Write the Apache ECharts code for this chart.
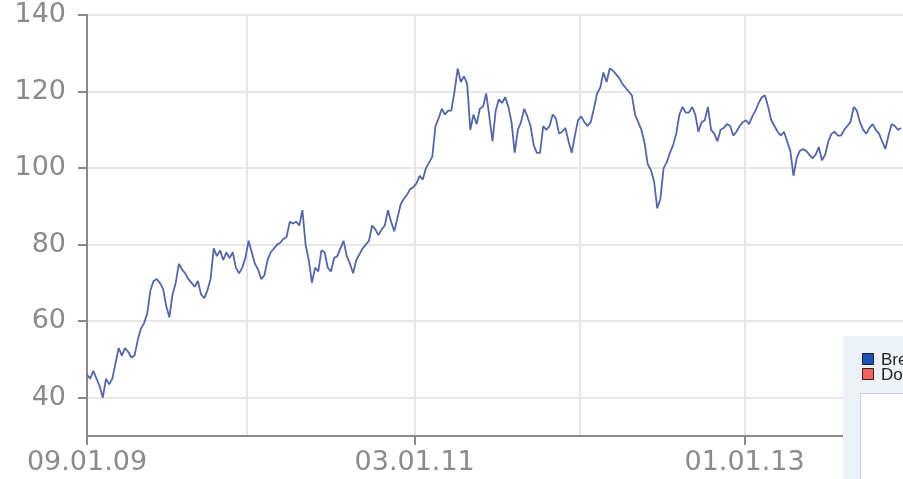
<!DOCTYPE html>
<html><head><meta charset="utf-8">
<script src="https://cdn.jsdelivr.net/npm/echarts@6/dist/echarts.min.js"></script>
<style>html,body{margin:0;padding:0;background:#fff}#c{width:903px;height:479px}</style>
</head><body><div id="c"></div>
<script>
// weekly closes, first point on startDate, one point every stepDays
const startDate = [2009, 0, 9];
const endDate = [2013, 11, 17];
const stepDays = 7;
const prices = [
  46, 45, 47, 45, 43, 40, 45, 43.5, 45, 49,
  53, 51, 53, 52, 50.5, 51, 55, 58, 59.5, 62,
  68, 70.5, 71, 70, 68.5, 64, 61, 67, 70, 75,
  73.5, 72.5, 71, 70, 69, 70.5, 67, 66, 68, 71,
  79, 77, 78.5, 76, 78, 76.5, 78, 74, 72.5, 74,
  76.5, 81, 78, 75, 73.5, 71, 72, 76, 78, 79,
  80, 80.5, 81.5, 82,
  86, 85.5, 86, 85, 89, 80, 76, 70, 74, 73,
  78.5, 78, 74, 73, 76.5, 77, 79, 81, 77, 75,
  72.5, 76, 77.5, 79, 80, 81, 85, 84, 82.5, 84,
  85, 89, 86, 83.5, 87, 90.5, 92, 93, 94.5, 95,
  96, 98, 97, 100, 101.5, 103, 111, 113, 115.5, 114,
  115, 115, 120, 126, 122.5, 124, 122, 110, 114, 111.5,
  115.5,
  116, 119.5, 113.5, 107, 115, 118, 117, 118.5, 116, 112,
  104, 110, 112, 115.5, 113.5, 111, 106, 104, 104, 111,
  110, 111, 114, 113, 109, 109.5, 110.5, 107, 104, 108.5,
  112.5, 113.5, 112, 111, 112, 115.5, 119.5, 121, 125, 122.5,
  126, 125.5, 124.5, 123.5, 122, 121, 120, 119, 114, 112,
  110, 106.5, 101, 99.5, 96.5, 89.5, 92, 100, 101.5, 104,
  106, 109, 114, 116, 114.5, 114.5,
  116, 114, 109.5, 112, 112.5, 116, 110, 109, 107, 110,
  110.5, 111.5, 111, 108.5, 109.5, 111, 112, 112.5, 111.5, 113.5,
  115, 117, 118.5, 119, 116, 112.5, 111, 109.5, 108.5, 109.5,
  107, 104.5, 98, 102.5, 104.5, 105, 104.5, 103.5, 102.5, 103.5,
  105.5, 102, 103.5, 107, 109, 109.5, 108.5, 108.5, 110, 111,
  112, 116, 115, 112, 110, 109, 110.5, 111.5, 110, 109,
  107, 105, 108.5, 111.5, 111, 110, 110.5
];
const xLabelDates = [[2009, 0, 9], [2011, 0, 3], [2013, 0, 1]];
const xGridDates = [[2009, 0, 9], [2009, 11, 29], [2011, 0, 3], [2012, 0, 2], [2013, 0, 1]];
const yTicks = [40, 60, 80, 100, 120, 140];
const legendNames = ['Brent', 'Dow Jones'];
const legendColors = ['#1f52b8', '#f26363'];

const ts = d => Date.UTC(d[0], d[1], d[2]);
const DAY = 86400000;
const t0 = ts(startDate);
const seriesData = prices.map((v, i) => [t0 + i * stepDays * DAY, v]);
const pad = n => (n < 10 ? '0' : '') + n;
const fmt = v => { const d = new Date(v); return pad(d.getUTCDate()) + '.' + pad(d.getUTCMonth() + 1) + '.' + pad(d.getUTCFullYear() % 100); };

const axisGrey = '#8a8a8a';
const gridGrey = '#e6e6e6';
const labelStyle = { color: '#8a8a8a', fontSize: 27, fontFamily: 'DejaVu Sans' };

const chart = echarts.init(document.getElementById('c'), null, { renderer: 'canvas' });
chart.setOption({
  animation: false,
  backgroundColor: '#ffffff',
  grid: { left: 87, right: 0, top: 15, bottom: 43, containLabel: false, outerBoundsMode: 'none' },
  xAxis: [{
    type: 'value', min: ts(startDate), max: ts(endDate), scale: true,
    axisLine: { show: true, onZero: false, lineStyle: { color: axisGrey, width: 2 } },
    axisTick: { show: true, customValues: xLabelDates.map(ts), length: 9, lineStyle: { color: axisGrey, width: 2 } },
    axisLabel: Object.assign({ customValues: xLabelDates.map(ts), formatter: fmt, margin: 13 }, labelStyle),
    splitLine: { show: false }
  }, {
    type: 'value', min: ts(startDate), max: ts(endDate), scale: true, gridIndex: 0, position: 'bottom',
    axisLine: { show: false },
    axisTick: { show: false, customValues: xGridDates.map(ts) },
    axisLabel: { show: false },
    splitLine: { show: true, lineStyle: { color: gridGrey, width: 2 } }
  }],
  yAxis: {
    type: 'value', min: 30, max: 140,
    axisLine: { show: true, lineStyle: { color: axisGrey, width: 2 } },
    axisTick: { show: true, customValues: yTicks, length: 9, lineStyle: { color: axisGrey, width: 2 } },
    axisLabel: Object.assign({ customValues: yTicks, margin: 21 }, labelStyle),
    splitLine: { show: true, lineStyle: { color: gridGrey, width: 2 } }
  },
  series: [{
    type: 'line', xAxisIndex: 0, data: seriesData, showSymbol: false, symbol: 'none',
    lineStyle: { color: '#5566a6', width: 1.8 }, z: 5
  }],
  graphic: [
    { type: 'rect', z: 100, shape: { x: 843, y: 336, width: 80, height: 160 }, style: { fill: '#edf1f8' } },
    { type: 'rect', z: 101, shape: { x: 860.5, y: 393.5, width: 60, height: 100 }, style: { fill: '#ffffff', stroke: '#c9ced6', lineWidth: 1 } },
    { type: 'rect', z: 101, shape: { x: 862.5, y: 353.5, width: 11, height: 11 }, style: { fill: legendColors[0], stroke: '#1b1b3a', lineWidth: 1 } },
    { type: 'rect', z: 101, shape: { x: 862.5, y: 368.5, width: 11, height: 11 }, style: { fill: legendColors[1], stroke: '#3a1b1b', lineWidth: 1 } },
    { type: 'text', z: 101, x: 881, y: 360, style: { text: legendNames[0], font: '17px "Liberation Sans"', fill: '#222', verticalAlign: 'middle' } },
    { type: 'text', z: 101, x: 881, y: 375, style: { text: legendNames[1], font: '17px "Liberation Sans"', fill: '#222', verticalAlign: 'middle' } }
  ]
});
</script></body></html>
